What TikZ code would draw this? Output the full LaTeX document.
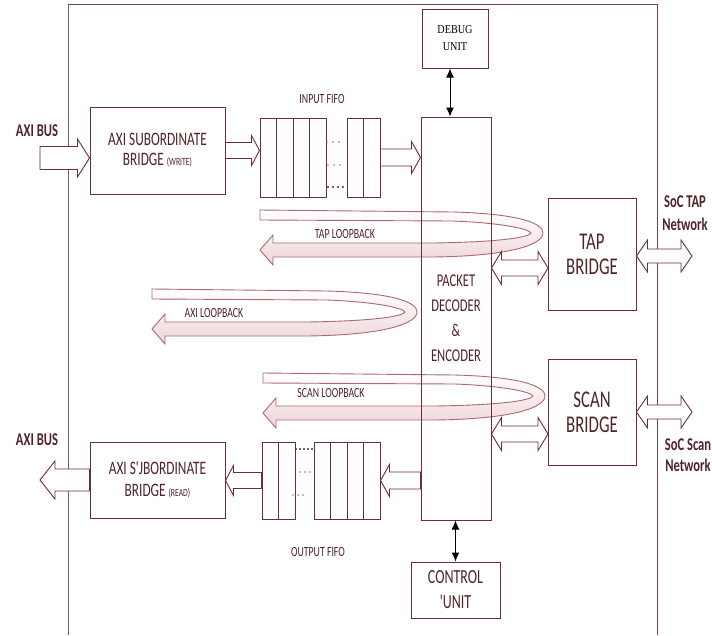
\documentclass[tikz,border=0pt]{standalone}
\usepackage{fontspec}
\usetikzlibrary{calc,arrows.meta}

\newfontfamily\calnarrow{Carlito}[FakeStretch=0.7]
\newfontfamily\timesnarrow{Liberation Serif}[FakeStretch=0.85]

\definecolor{edgeC}{RGB}{110,45,55}
\definecolor{loopC}{RGB}{170,105,115}
\definecolor{loopF}{RGB}{238,212,216}
\definecolor{txtC}{RGB}{80,35,40}
\definecolor{frameC}{RGB}{105,100,100}

\tikzset{
  shaftw/.store in=\shaftw, headw/.store in=\headw, headl/.store in=\headl,
  shaftw=8.5pt, headw=16pt, headl=9pt,
  fatline/.style={draw=edgeC, line width=0.9pt, fill=white},
  unitbox/.style={draw=edgeC, line width=1pt, text=txtC, align=center, inner sep=0pt},
  cell/.style={draw=edgeC, line width=1pt, minimum width=16.5pt, inner sep=0pt},
  loopband/.style={draw=loopC, line width=0.9pt, top color=white, bottom color=loopF},
  lbl/.style={text=txtC, font=\calnarrow\fontsize{14}{16}\selectfont, inner sep=0pt},
  buslbl/.style={text=txtC, font=\calnarrow\bfseries\fontsize{18}{22}\selectfont,
    align=center, inner sep=0pt},
  ctrlarrow/.style={line width=1pt, {Latex[length=9pt,width=8pt]}-{Latex[length=9pt,width=8pt]}}
}

% Blockpfeil (einseitig / beidseitig)
\newcommand{\fatarr}[3][]{%
  \draw[fatline,#1] let \p1=(#2), \p2=(#3), \n1={sign(\x2-\x1)} in
    (\x1,\y1+\shaftw) -- (\x2-\n1*\headl,\y1+\shaftw) -- (\x2-\n1*\headl,\y1+\headw)
    -- (\x2,\y1) -- (\x2-\n1*\headl,\y1-\headw) -- (\x2-\n1*\headl,\y1-\shaftw)
    -- (\x1,\y1-\shaftw) -- cycle;}
\newcommand{\fatboth}[3][]{%
  \draw[fatline,#1] let \p1=(#2), \p2=(#3), \n1={sign(\x2-\x1)} in
    (\x1,\y1) -- (\x1+\n1*\headl,\y1+\headw) -- (\x1+\n1*\headl,\y1+\shaftw)
    -- (\x2-\n1*\headl,\y1+\shaftw) -- (\x2-\n1*\headl,\y1+\headw) -- (\x2,\y1)
    -- (\x2-\n1*\headl,\y1-\headw) -- (\x2-\n1*\headl,\y1-\shaftw)
    -- (\x1+\n1*\headl,\y1-\shaftw) -- (\x1+\n1*\headl,\y1-\headw) -- cycle;}

\begin{document}
\begin{tikzpicture}[x=1pt, y=-1pt]

\useasboundingbox (0,0) rectangle (712,635);

% Rahmen
\draw[frameC, line width=1pt] (68,635) -- (68,4);
\draw[edgeC!70!gray, line width=1pt] (68,4) -- (657,4) -- (657,635);

% Loopbacks
\foreach \xs/\xr/\yt in {260/543/210, 152/417/289, 263/545/373}{
  \draw[loopband] (\xs,\yt) -- (\xr-90,\yt+2)
    .. controls (\xr-20,\yt+4) and (\xr,\yt+14) .. (\xr,\yt+23)
    .. controls (\xr,\yt+34) and (\xr-30,\yt+46) .. (\xr-110,\yt+47)
    -- (\xs+13,\yt+47) -- (\xs+13,\yt+55) -- (\xs,\yt+40) -- (\xs+13,\yt+25)
    -- (\xs+13,\yt+33) -- (\xr-110,\yt+33)
    .. controls (\xr-40,\yt+32) and (\xr-14,\yt+27) .. (\xr-12,\yt+23)
    .. controls (\xr-14,\yt+19) and (\xr-40,\yt+13) .. (\xr-90,\yt+11)
    -- (\xs,\yt+10) -- cycle;
}
\node[lbl] (taplb)  at (345,234) {TAP LOOPBACK};
\node[lbl] (axilb)  at (214,313) {AXI LOOPBACK};
\node[lbl] (scanlb) at (331,393) {SCAN LOOPBACK};

% Bloecke
\node[unitbox, minimum width=135pt, minimum height=87pt,
      font=\calnarrow\fontsize{19}{20}\selectfont] (wbr) at (157.5,150.5)
      {AXI SUBORDINATE\\BRIDGE {\fontsize{11}{12}\selectfont(WRITE)}};
\node[unitbox, minimum width=135pt, minimum height=76pt,
      font=\calnarrow\fontsize{19}{22}\selectfont] (rbr) at (157.5,480)
      {AXI S'JBORDINATE\\BRIDGE {\fontsize{11}{12}\selectfont(READ)}};
\node[unitbox, minimum width=70pt, minimum height=403pt,
      font=\calnarrow\fontsize{18}{25}\selectfont] (dec) at (456,318.5)
      {PACKET\\DECODER\\\&\\ENCODER};
\node[unitbox, minimum width=66pt, minimum height=59pt, text=black,
      font=\timesnarrow\fontsize{12}{17}\selectfont] (dbg) at (455,38.5)
      {DEBUG\\UNIT};
\node[unitbox, minimum width=89pt, minimum height=56pt,
      font=\calnarrow\fontsize{20}{25}\selectfont] (ctl) at (455.5,590)
      {CONTROL\\'UNIT};
\node[unitbox, minimum width=88pt, minimum height=112pt,
      font=\calnarrow\fontsize{24}{25}\selectfont] (tap) at (592,254)
      {TAP\\BRIDGE};
\node[unitbox, minimum width=88pt, minimum height=106pt,
      font=\calnarrow\fontsize{24}{25}\selectfont] (scan) at (592,412)
      {SCAN\\BRIDGE};

% FIFOs
\foreach \i/\x in {0/268.25, 1/284.75, 2/301.25, 3/317.75, 4/355.25, 5/371.75}
  \node[cell, minimum height=79pt] (fi\i) at (\x,157.5) {};
\foreach \i/\x in {0/270.25, 1/286.75, 2/322.25, 3/338.75, 4/355.25, 5/371.75}
  \node[cell, minimum height=77pt] (fo\i) at (\x,480.5) {};
\foreach \x in {327,333,339} \fill[txtC!60] (\x,142) circle (0.8);
\foreach \x in {328,334,340} \fill[txtC!60] (\x,165) circle (0.8);
\foreach \x in {328,333,338,343} \fill[txtC] (\x,187) circle (1.1);
\foreach \x in {296,300,304,308,312} \fill[txtC] (\x,449) circle (1.1);
\foreach \x in {300,305,310} \fill[txtC!60] (\x,472) circle (0.8);
\foreach \x in {293,298,303} \fill[txtC!60] (\x,495) circle (0.8);
\node[lbl] (inlb)  at (322,99)  {INPUT FIFO};
\node[lbl] (outlb) at (318,552) {OUTPUT FIFO};

% Busse aussen
\coordinate (axiin)   at (40,158);
\coordinate (axiout)  at (40,480);
\coordinate (tapin)   at (548,268);
\coordinate (tapout)  at (692,256);
\coordinate (scanin)  at (548,434);
\coordinate (scanout) at (692,412);
\node[buslbl] (bus1) at (37,131) {AXI BUS};
\node[buslbl] (bus2) at (37,440) {AXI BUS};
\node[buslbl, font=\calnarrow\bfseries\fontsize{18}{23}\selectfont] (socTap) at (685,213.5) {SoC TAP\\Network};
\node[buslbl, font=\calnarrow\bfseries\fontsize{18}{21}\selectfont] (socScan) at (688,455) {SoC Scan\\Network};

% Blockpfeile
\fatarr[shaftw=11.5pt, headw=19pt, headl=12pt]{axiin}{axiin -| wbr.west}
\fatarr[shaftw=8pt, headw=15pt, headl=8pt]{wbr.east}{wbr.east -| fi0.west}
\fatarr{fi5.east}{fi5.east -| dec.west}
\fatarr{dec.west |- fo5.east}{fo5.east}
\fatarr[shaftw=8pt, headw=15pt, headl=8pt]{fo0.west}{fo0.west -| rbr.east}
\fatarr[shaftw=11pt, headw=19pt, headl=15pt]{rbr.west}{axiout}
\fatboth[shaftw=8pt, headw=16.5pt, headl=10pt]{dec.east |- tapin}{tapin}
\fatboth[shaftw=7pt, headw=16pt, headl=11pt]{tap.east |- tapout}{tapout}
\fatboth[shaftw=8pt, headw=16.5pt, headl=10pt]{dec.east |- scanin}{scanin}
\fatboth[shaftw=7pt, headw=16pt, headl=11pt]{scan.east}{scanout}

% Steuerpfeile
\draw[ctrlarrow] ([xshift=-5pt]dbg.south) -- ([xshift=-5pt]dbg.south |- dec.north);
\draw[ctrlarrow] (ctl.north) -- (ctl.north |- dec.south);

\end{tikzpicture}
\end{document}
